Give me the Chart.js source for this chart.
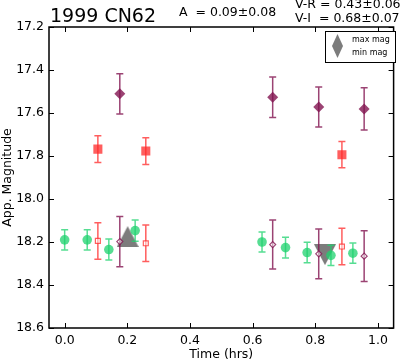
<!DOCTYPE html>
<html>
<head>
<meta charset="utf-8">
<script src="https://cdn.jsdelivr.net/npm/chart.js@4/dist/chart.umd.min.js"></script>
<style>
  body { margin: 0; background: #fff; }
  canvas { display: block; }
</style>
</head>
<body>
<canvas id="grafico" width="400" height="362"></canvas>
<script>
// datos
const xTicks = [0.0, 0.2, 0.4, 0.6, 0.8, 1.0];
const yTicks = [17.2, 17.4, 17.6, 17.8, 18.0, 18.2, 18.4, 18.6];

const timeV = [0.0, 0.072, 0.141, 0.225, 0.630, 0.705, 0.774, 0.850, 0.920];
const magV = [18.19, 18.19, 18.235, 18.147, 18.20, 18.226, 18.249, 18.262, 18.252];
const errV = [0.047, 0.047, 0.049, 0.049, 0.047, 0.048, 0.048, 0.047, 0.047];

const timeR = [0.106, 0.259, 0.885];
const magR = [17.768, 17.777, 17.794];
const errR = [0.062, 0.062, 0.061];
const magRshift = [18.195, 18.206, 18.221];
const errRshift = [0.085, 0.085, 0.085];

const timeI = [0.176, 0.664, 0.811, 0.956];
const magI = [17.511, 17.527, 17.572, 17.581];
const errI = [0.094, 0.094, 0.093, 0.098];
const magIshift = [18.198, 18.212, 18.255, 18.266];
const errIshift = [0.117, 0.114, 0.116, 0.118];

const maxMag = [{ x: 0.201, y: 18.175 }];
const minMag = [{ x: 0.831, y: 18.259 }];

const titulo = '1999 CN62';
const textoA = 'A  = 0.09\u00b10.08';
const textoVR = 'V-R = 0.43\u00b10.06';
const textoVI = 'V-I  = 0.68\u00b10.07';

const FONT = 'DejaVu Sans';
const GREEN = 'rgba(30,210,110,0.75)';
const RED = 'rgba(255,40,40,0.75)';
const PURPLE = 'rgba(130,20,80,0.8)';
const GRAY = 'rgba(110,110,110,0.9)';

function puntos(xs, ys) {
    return xs.map((x, i) => ({ x: x, y: ys[i] }));
}

// triangulo estilo matplotlib (centrado en la caja)
function triangulo(arriba) {
    const c = document.createElement('canvas');
    c.width = 22; c.height = 21;
    const g = c.getContext('2d');
    g.fillStyle = GRAY;
    g.beginPath();
    if (arriba) {
        g.moveTo(11, 0); g.lineTo(22, 21); g.lineTo(0, 21);
    } else {
        g.moveTo(0, 0); g.lineTo(22, 0); g.lineTo(11, 21);
    }
    g.closePath();
    g.fill();
    return c;
}

const barrasError = {
    id: 'barrasError',
    beforeDatasetDraw(chart, args) {
        const ds = chart.data.datasets[args.index];
        if (!ds.errores) return;
        const { ctx, scales } = chart;
        ctx.save();
        ctx.strokeStyle = ds.borderColor;
        ctx.lineWidth = 1.5;
        ds.data.forEach((p, i) => {
            const px = scales.x.getPixelForValue(p.x);
            const y1 = scales.y.getPixelForValue(p.y - ds.errores[i]);
            const y2 = scales.y.getPixelForValue(p.y + ds.errores[i]);
            ctx.beginPath();
            ctx.moveTo(px, y1); ctx.lineTo(px, y2);
            ctx.moveTo(px - 3.5, y1); ctx.lineTo(px + 3.5, y1);
            ctx.moveTo(px - 3.5, y2); ctx.lineTo(px + 3.5, y2);
            ctx.stroke();
        });
        ctx.restore();
    }
};

const marco = {
    id: 'marco',
    afterDraw(chart) {
        const { ctx, chartArea: a, scales } = chart;
        ctx.save();
        ctx.strokeStyle = '#000';
        ctx.lineWidth = 1;
        ctx.beginPath();
        xTicks.forEach(v => {
            const px = Math.round(scales.x.getPixelForValue(v)) + 0.5;
            ctx.moveTo(px, a.top); ctx.lineTo(px, a.top + 5);
            ctx.moveTo(px, a.bottom); ctx.lineTo(px, a.bottom - 5);
        });
        yTicks.forEach(v => {
            const py = Math.round(scales.y.getPixelForValue(v)) + 0.5;
            ctx.moveTo(a.left, py); ctx.lineTo(a.left + 5, py);
            ctx.moveTo(a.right, py); ctx.lineTo(a.right - 5, py);
        });
        ctx.stroke();
        ctx.lineWidth = 1.5;
        ctx.strokeRect(a.left, a.top, a.right - a.left, a.bottom - a.top);

        // leyenda
        ctx.fillStyle = '#fff';
        ctx.fillRect(325, 31, 70, 31);
        ctx.lineWidth = 1;
        ctx.strokeRect(325.5, 31.5, 70, 31);
        ctx.fillStyle = GRAY;
        ctx.beginPath();
        ctx.moveTo(337.5, 34); ctx.lineTo(343, 46); ctx.lineTo(332, 46);
        ctx.closePath(); ctx.fill();
        ctx.beginPath();
        ctx.moveTo(332, 46); ctx.lineTo(343, 46); ctx.lineTo(337.5, 58);
        ctx.closePath(); ctx.fill();
        ctx.fillStyle = '#000';
        ctx.font = '8px "' + FONT + '"';
        ctx.textBaseline = 'middle';
        ctx.fillText('max mag', 352, 40);
        ctx.fillText('min mag', 352, 53);

        // textos de cabecera
        ctx.font = '19px "' + FONT + '"';
        ctx.textBaseline = 'alphabetic';
        ctx.fillText(titulo, 50, 22);
        ctx.font = '12.5px "' + FONT + '"';
        ctx.textBaseline = 'middle';
        ctx.fillText(textoA, 179, 13);
        ctx.fillText(textoVR, 295, 5);
        ctx.fillText(textoVI, 295, 19);
        ctx.restore();
    }
};

const ctx = document.getElementById('grafico').getContext('2d');

new Chart(ctx, {
    type: 'scatter',
    data: {
        datasets: [
            {
                data: puntos(timeI, magIshift), errores: errIshift,
                borderColor: PURPLE, backgroundColor: 'rgba(255,255,255,0.5)',
                pointStyle: 'rectRot', pointRadius: 3, borderWidth: 1.2
            },
            {
                data: puntos(timeI, magI), errores: errI,
                borderColor: PURPLE, backgroundColor: PURPLE,
                pointStyle: 'rectRot', pointRadius: 5.5, borderWidth: 0
            },
            {
                data: puntos(timeR, magRshift), errores: errRshift,
                borderColor: RED, backgroundColor: 'rgba(255,255,255,0.5)',
                pointStyle: 'rect', pointRadius: 3.5, borderWidth: 1.2
            },
            {
                data: puntos(timeR, magR), errores: errR,
                borderColor: RED, backgroundColor: RED,
                pointStyle: 'rect', pointRadius: 6.4, borderWidth: 0
            },
            {
                data: puntos(timeV, magV), errores: errV,
                borderColor: GREEN, backgroundColor: GREEN,
                pointStyle: 'circle', pointRadius: 4.8, borderWidth: 0
            },
            {
                data: maxMag, pointStyle: triangulo(true), borderColor: GRAY
            },
            {
                data: minMag, pointStyle: triangulo(false), borderColor: GRAY
            }
        ]
    },
    options: {
        responsive: false,
        animation: false,
        layout: { padding: { top: 27, right: 0, left: 0, bottom: 0 } },
        plugins: {
            legend: { display: false },
            tooltip: { enabled: false }
        },
        scales: {
            x: {
                type: 'linear',
                min: -0.05,
                max: 1.05,
                afterBuildTicks: s => { s.ticks = xTicks.map(v => ({ value: v })); },
                afterFit: s => { s.height = 34; },
                grid: { display: false, drawTicks: false },
                border: { display: false },
                ticks: {
                    color: '#000', padding: 5,
                    font: { family: FONT, size: 12.5 },
                    callback: v => v.toFixed(1)
                },
                title: {
                    display: true, text: 'Time (hrs)', color: '#000',
                    font: { family: FONT, size: 12.5 }, padding: 0
                }
            },
            y: {
                type: 'linear',
                reverse: true,
                min: 17.2,
                max: 18.6,
                afterBuildTicks: s => { s.ticks = yTicks.map(v => ({ value: v })); },
                afterFit: s => { s.width = 49; },
                grid: { display: false, drawTicks: false },
                border: { display: false },
                ticks: {
                    color: '#000', padding: 5,
                    font: { family: FONT, size: 12.5 },
                    callback: v => v.toFixed(1)
                },
                title: {
                    display: true, text: 'App. Magnitude', color: '#000',
                    font: { family: FONT, size: 12.5 }, padding: { top: 0, bottom: 0 }
                }
            }
        }
    },
    plugins: [barrasError, marco]
});
</script>
</body>
</html>
